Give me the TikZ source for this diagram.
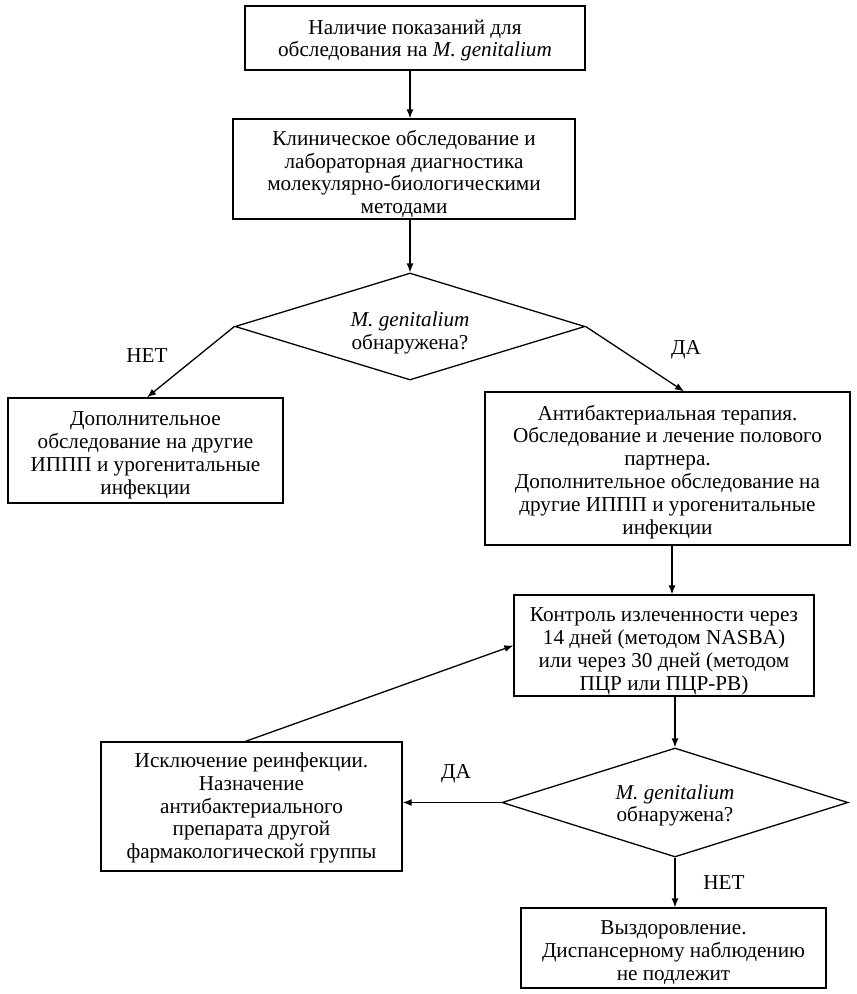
\documentclass[tikz,border=0pt]{standalone}
\usepackage{fontspec}
\setmainfont{Liberation Serif}
\usetikzlibrary{shapes.geometric,arrows.meta}
\newcommand{\tx}[2][5pt]{\raisebox{-#1}[\height][\depth]{\begin{tabular}{@{}c@{}}#2\end{tabular}}}
\begin{document}
\begin{tikzpicture}[x=1pt,y=-1pt,
  every node/.style={font=\fontsize{21.2}{22.8}\selectfont, inner sep=0pt},
  boxn/.style={draw, line width=1.3pt, align=center},
  dia/.style={draw, diamond, aspect=3.25, line width=1.3pt, align=center},
  lbl/.style={font=\fontsize{21.2}{22.8}\selectfont},
  arr/.style={line width=1.3pt, -{Latex[length=9pt,width=7pt]}}]
\useasboundingbox (0,0) rectangle (857,994);
\node[boxn, minimum width=340, minimum height=64] (b1) at (415,38) {\tx[3pt]{Наличие показаний для\\обследования на \textit{M. genitalium}}};
\node[boxn, minimum width=342, minimum height=100] (b2) at (404,169) {\tx[6pt]{Клиническое обследование и\\лабораторная диагностика\\молекулярно-биологическими\\методами}};
\node[dia, minimum width=350, minimum height=107] (d1) at (410,326.5) {\tx[7pt]{\textit{M. genitalium}\\обнаружена?}};
\node[boxn, minimum width=275, minimum height=105] (b3) at (145.5,450.5) {\tx[5pt]{Дополнительное\\обследование на другие\\ИППП и урогенитальные\\инфекции}};
\node[boxn, minimum width=365, minimum height=153] (b4) at (667.5,468.5) {\tx[4pt]{Антибактериальная терапия.\\Обследование и лечение полового\\партнера.\\Дополнительное обследование на\\другие ИППП и урогенитальные\\инфекции}};
\node[boxn, minimum width=300, minimum height=101] (b5) at (664,645.5) {\tx[6pt]{Контроль излеченности через\\14 дней (методом NASBA)\\или через 30 дней (методом\\ПЦР или ПЦР-РВ)}};
\node[dia, minimum width=346, minimum height=109] (d2) at (675,802.5) {\tx[3.5pt]{\textit{M. genitalium}\\обнаружена?}};
\node[boxn, minimum width=301, minimum height=129] (b6) at (251.5,806.5) {\tx[2pt]{Исключение реинфекции.\\Назначение\\антибактериального\\препарата другой\\фармакологической группы}};
\node[boxn, minimum width=305, minimum height=80] (b7) at (673.5,948) {\tx[5pt]{Выздоровление.\\Диспансерному наблюдению\\не подлежит}};
\node[lbl] (l1) at (147,356) {НЕТ};
\node[lbl] (l2) at (686,350) {ДА};
\node[lbl] (l3) at (456,774) {ДА};
\node[lbl] (l4) at (724,883) {НЕТ};
\draw[arr] (d1.north |- b1.south) -- (d1.north |- b2.north);
\draw[arr] (d1.north |- b2.south) -- (d1.north);
\draw[arr] (d1.west) -- ([xshift=1.5]b3.north);
\draw[arr] (d1.east) -- ([xshift=16.5]b4.north);
\draw[arr] ([xshift=4.5]b4.south) -- ([xshift=4.5]b4.south |- b5.north);
\draw[arr] (d2.north |- b5.south) -- (d2.north);
\draw[arr] (d2.west) -- (b6.east |- d2.west);
\draw[arr] (d2.south) -- (d2.south |- b7.north);
\draw[arr] ([xshift=-6]b6.north) -- (b5.west);
\end{tikzpicture}
\end{document}
